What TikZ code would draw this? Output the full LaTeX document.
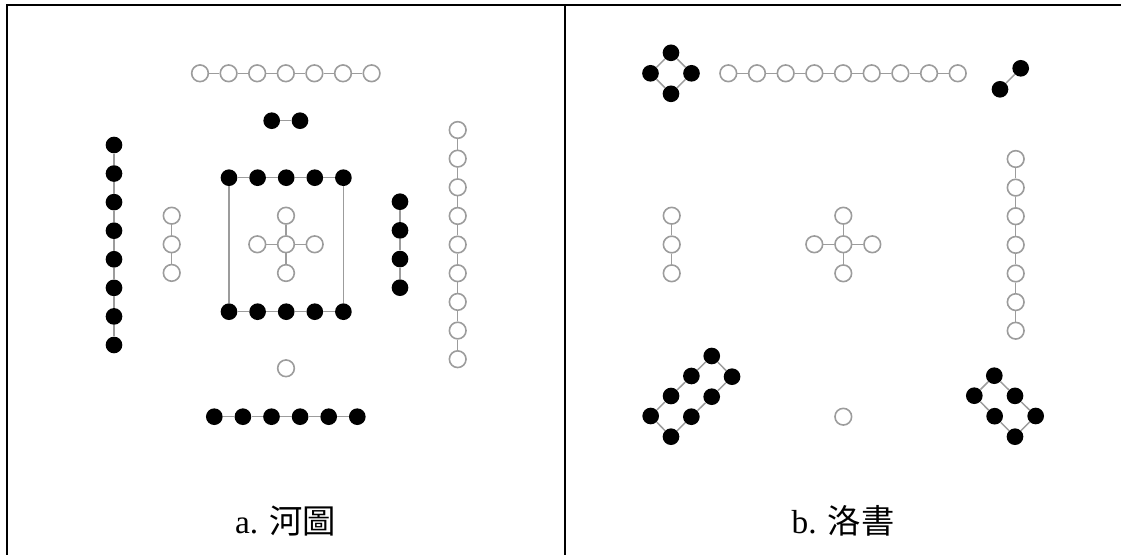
\documentclass[tikz,border=0pt]{standalone}
\usepackage{fontspec}
\setmainfont{Liberation Serif}
\newfontfamily\cjk{Noto Sans CJK TC}
\definecolor{dotgray}{HTML}{9C9C9C}

\begin{document}
\begin{tikzpicture}[x=0.75pt,y=-0.75pt,
  yang/.style={circle,draw=dotgray,line width=1.2pt,fill=white,
               inner sep=0pt,minimum size=12.5pt},
  yin/.style={circle,fill=black,inner sep=0pt,minimum size=12.5pt},
  link/.style={dotgray,line width=1.1pt},
  caption/.style={font=\fontsize{25}{28}\selectfont}]
  \useasboundingbox (0,0) rectangle (1121,555);
  \draw[line width=1.5pt] (6.7,555)--(6.7,5)--(1121,5);
  \draw[line width=1.5pt] (564.7,5)--(564.7,555);

  % a. river chart
  \foreach \i in {1,...,7}
    \node[yang] (h7-\i) at ({200+28.6*(\i-1)},73.3) {};
  \foreach \i [count=\j from 2] in {1,...,6}
    \draw[link] (h7-\i)--(h7-\j);
  \node[yin] (h2-1) at (271.7,120.7) {};
  \node[yin] (h2-2) at (300,120.7) {};
  \draw[link] (h2-1)--(h2-2);
  \foreach \i in {1,...,8}
    \node[yin] (h8-\i) at (114,{145+28.57*(\i-1)}) {};
  \foreach \i [count=\j from 2] in {1,...,7}
    \draw[link] (h8-\i)--(h8-\j);
  \foreach \i in {1,2,3}
    \node[yang] (h3-\i) at (171.7,{215.7+28.6*(\i-1)}) {};
  \foreach \i [count=\j from 2] in {1,2}
    \draw[link] (h3-\i)--(h3-\j);
  \foreach \i in {1,...,5}{
    \node[yin] (ht-\i) at ({229+28.6*(\i-1)},177.7) {};
    \node[yin] (hb-\i) at ({229+28.6*(\i-1)},311.7) {};
  }
  \foreach \i [count=\j from 2] in {1,...,4}{
    \draw[link] (ht-\i)--(ht-\j);
    \draw[link] (hb-\i)--(hb-\j);
  }
  \draw[link] (ht-1)--(hb-1);
  \draw[link] (ht-5)--(hb-5);
  \node[yang] (hc) at (286,244.3) {};
  \node[yang] (hc-n) at (286,215.7) {};
  \node[yang] (hc-s) at (286,273) {};
  \node[yang] (hc-w) at (257.3,244.3) {};
  \node[yang] (hc-e) at (314.7,244.3) {};
  \foreach \d in {n,e,s,w}
    \draw[link] (hc)--(hc-\d);
  \foreach \i in {1,...,4}
    \node[yin] (h4-\i) at (400,{201.7+28.67*(\i-1)}) {};
  \foreach \i [count=\j from 2] in {1,2,3}
    \draw[link] (h4-\i)--(h4-\j);
  \foreach \i in {1,...,9}
    \node[yang] (h9-\i) at (457.7,{130+28.65*(\i-1)}) {};
  \foreach \i [count=\j from 2] in {1,...,8}
    \draw[link] (h9-\i)--(h9-\j);
  \node[yang] (h1) at (286,368.3) {};
  \foreach \i in {1,...,6}
    \node[yin] (h6-\i) at ({214.3+28.6*(\i-1)},416.7) {};
  \foreach \i [count=\j from 2] in {1,...,5}
    \draw[link] (h6-\i)--(h6-\j);
  \node[caption] (capa) at (285.5,521) {a. {\cjk 河圖}};

  % b. luo writing
  \node[yin] (l4-n) at (671,52.8) {};
  \node[yin] (l4-e) at (691.5,73.3) {};
  \node[yin] (l4-s) at (671,93.8) {};
  \node[yin] (l4-w) at (650.5,73.3) {};
  \draw[link] (l4-n)--(l4-e)--(l4-s)--(l4-w)--(l4-n);
  \foreach \i in {1,...,9}
    \node[yang] (l9-\i) at ({728.3+28.68*(\i-1)},73.3) {};
  \foreach \i [count=\j from 2] in {1,...,8}
    \draw[link] (l9-\i)--(l9-\j);
  \node[yin] (l2-1) at (1000,89.3) {};
  \node[yin] (l2-2) at (1020.7,68.3) {};
  \draw[link] (l2-1)--(l2-2);
  \foreach \i in {1,2,3}
    \node[yang] (l3-\i) at (671.7,{215.7+28.8*(\i-1)}) {};
  \foreach \i [count=\j from 2] in {1,2}
    \draw[link] (l3-\i)--(l3-\j);
  \node[yang] (lc) at (843.3,244.3) {};
  \node[yang] (lc-n) at (843.3,215.7) {};
  \node[yang] (lc-s) at (843.3,273.3) {};
  \node[yang] (lc-w) at (814.3,244.3) {};
  \node[yang] (lc-e) at (872.3,244.3) {};
  \foreach \d in {n,e,s,w}
    \draw[link] (lc)--(lc-\d);
  \foreach \i in {1,...,7}
    \node[yang] (l7-\i) at (1015.7,{159+28.62*(\i-1)}) {};
  \foreach \i [count=\j from 2] in {1,...,6}
    \draw[link] (l7-\i)--(l7-\j);
  \foreach \i in {1,...,4}{
    \node[yin] (l8a-\i) at ({650.7+20.35*(\i-1)},{416-20*(\i-1)}) {};
    \node[yin] (l8b-\i) at ({671+20.35*(\i-1)},{436.7-20*(\i-1)}) {};
  }
  \foreach \i [count=\j from 2] in {1,2,3}{
    \draw[link] (l8a-\i)--(l8a-\j);
    \draw[link] (l8b-\i)--(l8b-\j);
  }
  \draw[link] (l8a-1)--(l8b-1);
  \draw[link] (l8a-4)--(l8b-4);
  \node[yang] (l1) at (843.3,416.7) {};
  \foreach \i in {1,2,3}{
    \node[yin] (l6a-\i) at ({994.3+20.7*(\i-1)},{375.7+20.15*(\i-1)}) {};
    \node[yin] (l6b-\i) at ({974.3+20.35*(\i-1)},{395.7+20.5*(\i-1)}) {};
  }
  \foreach \i [count=\j from 2] in {1,2}{
    \draw[link] (l6a-\i)--(l6a-\j);
    \draw[link] (l6b-\i)--(l6b-\j);
  }
  \draw[link] (l6a-1)--(l6b-1);
  \draw[link] (l6a-3)--(l6b-3);
  \node[caption] (capb) at (843,521) {b. {\cjk 洛書}};
\end{tikzpicture}
\end{document}
